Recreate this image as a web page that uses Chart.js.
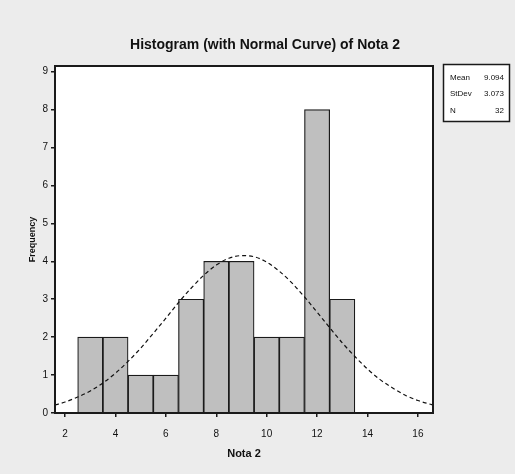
<!DOCTYPE html>
<html>
<head>
<meta charset="utf-8">
<script src="https://cdn.jsdelivr.net/npm/chart.js@4/dist/chart.umd.min.js"></script>
<style>
  html, body { margin: 0; padding: 0; background: #ececec; }
  #wrap { width: 515px; height: 474px; position: relative; }
</style>
</head>
<body>
<div id="wrap"><canvas id="chart" width="515" height="474"></canvas></div>
<script>
// Histogram bins (midpoints) and counts
const binMids = [3, 4, 5, 6, 7, 8, 9, 10, 11, 12, 13];
const counts = [2, 2, 1, 1, 3, 4, 4, 2, 2, 8, 3];

// Normal curve
const curveX = [1.6, 2, 2.5, 3, 3.5, 4, 4.5, 5, 5.5, 6, 6.5, 7, 7.5, 8, 8.5, 9, 9.5,
  10, 10.5, 11, 11.5, 12, 12.5, 13, 13.5, 14, 14.5, 15, 15.5, 16, 16.5, 16.6];
const curveY = [0.21, 0.29, 0.42, 0.58, 0.79, 1.05, 1.36, 1.71, 2.10, 2.50, 2.91, 3.29, 3.63, 3.90, 4.08, 4.15, 4.12,
  3.98, 3.74, 3.43, 3.06, 2.66, 2.25, 1.85, 1.49, 1.16, 0.88, 0.66, 0.47, 0.33, 0.23, 0.21];

// Tick labels
const xTicks = [2, 4, 6, 8, 10, 12, 14, 16];
const yTicks = [0, 1, 2, 3, 4, 5, 6, 7, 8, 9];

// Stats box
const statLabels = ['Mean', 'StDev', 'N'];
const statValues = ['9.094', '3.073', '32'];

const titleText = 'Histogram (with Normal Curve) of Nota 2';
const FONT = '"Liberation Sans", Arial, sans-serif';

// Background, frame, title and stats box
const decorPlugin = {
  id: 'decor',
  beforeDraw(chart) {
    const { ctx, chartArea: a } = chart;
    ctx.save();
    ctx.fillStyle = '#ececec';
    ctx.fillRect(0, 0, chart.width, chart.height);
    ctx.fillStyle = '#ffffff';
    ctx.fillRect(a.left, a.top, a.right - a.left, a.bottom - a.top);
    ctx.restore();
  },
  afterDraw(chart) {
    const { ctx, chartArea: a } = chart;
    ctx.save();
    // plot frame
    ctx.strokeStyle = '#1a1a1a';
    ctx.lineWidth = 2;
    ctx.strokeRect(a.left, a.top, a.right - a.left, a.bottom - a.top);

    // title
    ctx.fillStyle = '#111';
    ctx.font = 'bold 14px ' + FONT;
    ctx.textAlign = 'center';
    ctx.textBaseline = 'middle';
    ctx.fillText(titleText, 265, 45);

    // stats box
    ctx.fillStyle = '#ffffff';
    ctx.fillRect(443, 64, 67, 58);
    ctx.strokeStyle = '#1a1a1a';
    ctx.lineWidth = 1.5;
    ctx.strokeRect(443.5, 64.5, 66, 57);
    ctx.fillStyle = '#111';
    ctx.font = '8px ' + FONT;
    const rowsY = [78, 94, 111];
    statLabels.forEach((lab, i) => {
      ctx.textAlign = 'left';
      ctx.fillText(lab, 450, rowsY[i]);
      ctx.textAlign = 'right';
      ctx.fillText(statValues[i], 504, rowsY[i]);
    });
    ctx.restore();
  }
};

const ctx = document.getElementById('chart').getContext('2d');
new Chart(ctx, {
  data: {
    datasets: [
      {
        type: 'line',
        data: curveX.map((x, i) => ({ x: x, y: curveY[i] })),
        borderColor: '#111',
        borderWidth: 1.2,
        borderDash: [4, 3],
        pointRadius: 0,
        cubicInterpolationMode: 'monotone',
        order: 0
      },
      {
        type: 'bar',
        data: binMids.map((m, i) => ({ x: m, y: counts[i] })),
        backgroundColor: '#bfbfbf',
        borderColor: '#1a1a1a',
        borderWidth: 1.2,
        barPercentage: 1,
        categoryPercentage: 1,
        order: 1
      }
    ]
  },
  options: {
    responsive: false,
    animation: false,
    layout: { padding: { left: 0, top: 66, right: 82, bottom: 0 } },
    plugins: {
      legend: { display: false },
      title: { display: false },
      tooltip: { enabled: false }
    },
    scales: {
      x: {
        type: 'linear',
        min: 1.6,
        max: 16.6,
        offset: false,
        afterFit: (s) => { s.height = 61; },
        afterBuildTicks: (s) => { s.ticks = xTicks.map(v => ({ value: v })); },
        grid: { offset: false, drawOnChartArea: false, drawTicks: true, tickLength: 4, color: '#1a1a1a', lineWidth: 1.5 },
        border: { display: true, color: '#1a1a1a', width: 2 },
        ticks: { color: '#111', font: { family: FONT, size: 10 }, padding: 11, maxRotation: 0 },
        title: { display: true, text: 'Nota 2', color: '#111', font: { family: FONT, size: 11, weight: 'bold' }, padding: { top: 0, bottom: 13 } }
      },
      y: {
        type: 'linear',
        min: 0,
        max: 9.15,
        afterFit: (s) => { s.width = 55; },
        afterBuildTicks: (s) => { s.ticks = yTicks.map(v => ({ value: v })); },
        grid: { drawOnChartArea: false, drawTicks: true, tickLength: 4, color: '#1a1a1a', lineWidth: 1.5 },
        border: { display: true, color: '#1a1a1a', width: 2 },
        ticks: { color: '#111', font: { family: FONT, size: 10 }, padding: 3 },
        title: { display: true, text: 'Frequency', color: '#111', font: { family: FONT, size: 9, weight: 'bold' }, padding: { top: 27, bottom: 0 } }
      }
    }
  },
  plugins: [decorPlugin]
});
</script>
</body>
</html>
